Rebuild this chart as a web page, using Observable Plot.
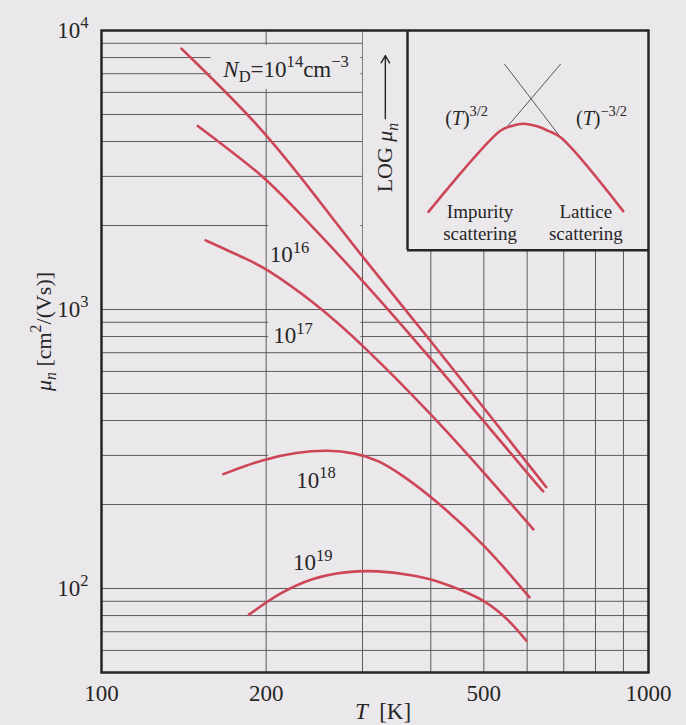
<!DOCTYPE html>
<html>
<head>
<meta charset="utf-8">
<script src="https://cdn.jsdelivr.net/npm/d3@7"></script>
<script src="https://cdn.jsdelivr.net/npm/@observablehq/plot@0.6"></script>
<style>
  html, body { margin: 0; padding: 0; background: #ebe8eb; }
  #chart { position: relative; width: 686px; height: 725px; }
  #chart svg { position: absolute; }
</style>
</head>
<body>
<div id="chart"></div>
<script>
// Electron mobility in n-type silicon versus temperature for several donor levels,
// with a schematic inset of the two scattering regimes.

const FONT = '"Liberation Serif", "Times New Roman", Times, serif';
const BG = "#ebe8eb";
const INK = "#262626";
const GRID = "#5c5c5c";
const RED = "#cc4658";

// Axes: temperature T [K] and mobility µn [cm²/(Vs)], both logarithmic
const xTicks = [100, 200, 500, 1000];
const xTickLabels = ["100", "200", "500", "1000"];
const yTicks = [50, 100, 1000, 10000];
const yTickLabels = ["50", "10^{2}", "10^{3}", "10^{4}"];
const xGrid = [200, 300, 400, 500, 600, 700, 800, 900];
const yGrid = [60, 70, 80, 90, 100, 200, 300, 400, 500, 600, 700, 800, 900,
               1000, 2000, 3000, 4000, 5000, 6000, 7000, 8000, 9000];

// Mobility curves, one per donor concentration N_D (cm^-3)
const T_14  = [140, 198, 250, 301, 409, 503, 631, 650];
const mu_14 = [8610, 4440, 2450, 1530, 730, 437, 249, 231];

const T_16  = [150, 198, 219, 299, 409, 503, 631, 642];
const mu_16 = [4550, 3010, 2450, 1290, 634, 392, 231, 223];

const T_17  = [155, 185, 197, 244, 299, 409, 503, 616];
const mu_17 = [1770, 1510, 1430, 1070, 755, 405, 257, 163];

const T_18  = [167, 198, 227, 260, 291, 320, 353, 409, 503, 606];
const mu_18 = [257, 291, 308, 314, 306, 289, 257, 207, 143, 93];

const T_19  = [186, 212, 244, 279, 320, 368, 409, 452, 503, 555, 598];
const mu_19 = [80.6, 96.7, 109.5, 115, 116, 112, 107, 99.2, 90.5, 77.4, 65];

const series = [
  {nd: "1e14", T: T_14, mu: mu_14},
  {nd: "1e16", T: T_16, mu: mu_16},
  {nd: "1e17", T: T_17, mu: mu_17},
  {nd: "1e18", T: T_18, mu: mu_18},
  {nd: "1e19", T: T_19, mu: mu_19}
];
const rows = series.flatMap(s => s.T.map((t, i) => ({nd: s.nd, T: t, mu: s.mu[i]})));

// Curve labels and where they sit (T, µ)
const curveLabels = ["*N*_{D}=10^{14}cm^{−3}", "10^{16}", "10^{17}", "10^{18}", "10^{19}"];
const labelT  = [167, 203, 206, 227, 224];
const labelMu = [7270, 1570, 803, 244, 123.5];

// Blank patches behind the labels that interrupt the grid
const gapT1  = [158.6, 202, 202, 202];
const gapT2  = [298, 298, 298, 298];
const gapMu1 = [6150, 1300, 750, 230];
const gapMu2 = [8830, 2300, 960, 340];

// Area reserved for the inset (upper right)
const insetT  = [301, 1000];
const insetMu = [1630, 10000];

// Inset: log µ against log T in arbitrary units (0..1)
const insetU = [0.087, 0.384, 0.433, 0.482, 0.538, 0.584, 0.636, 0.895];
const insetV = [0.175, 0.543, 0.566, 0.576, 0.564, 0.543, 0.513, 0.178];
const asymU1 = [0.405, 0.402];
const asymV1 = [0.551, 0.848];
const asymU2 = [0.636, 0.636];
const asymV2 = [0.848, 0.513];
const insetPower  = ["(*T*)^{3/2}", "(*T*)^{−3/2}"];
const insetPowerU = [0.245, 0.805];
const insetPowerV = [0.600, 0.600];
const insetRegime  = ["Impurity\nscattering", "Lattice\nscattering"];
const insetRegimeU = [0.301, 0.740];
const insetRegimeV = [0.128, 0.128];
const insetAxisLabel = ["LOG *μ*_{*n*}"];

const fmtX = d => xTickLabels[xTicks.indexOf(d)];
const fmtY = d => yTickLabels[yTicks.indexOf(d)];

const main = Plot.plot({
  width: 686,
  height: 725,
  marginLeft: 101,
  marginRight: 38,
  marginTop: 30,
  marginBottom: 53,
  style: {background: "transparent", overflow: "visible", fontFamily: FONT, fontSize: "23px", color: INK},
  x: {type: "log", domain: [100, 1000], ticks: xTicks, tickFormat: fmtX, tickSize: 0, tickPadding: 12, label: null},
  y: {type: "log", domain: [50, 10000], ticks: yTicks, tickFormat: fmtY, tickSize: 0, tickPadding: 13, label: null},
  marks: [
    Plot.ruleY(yGrid, {stroke: GRID, strokeWidth: 1}),
    Plot.ruleX(xGrid, {stroke: GRID, strokeWidth: 1}),
    Plot.rect(gapT1, {x1: gapT1, x2: gapT2, y1: gapMu1, y2: gapMu2, fill: BG}),
    Plot.rect([0], {x1: [insetT[0]], x2: [insetT[1]], y1: [insetMu[0]], y2: [insetMu[1]], fill: BG}),
    Plot.line(rows, {x: "T", y: "mu", z: "nd", stroke: RED, strokeWidth: 2.6, curve: "basis"}),
    Plot.frame({stroke: INK, strokeWidth: 2.5}),
    Plot.text(curveLabels, {x: labelT, y: labelMu, text: d => d, textAnchor: "start", fontSize: 23, fill: INK}),
    Plot.text(["*μ*_{*n*} [cm^{2}/(Vs)]"], {frameAnchor: "left", textAnchor: "middle", lineAnchor: "middle", dx: -58, dy: -20, rotate: -90, fontSize: 22, fill: INK}),
    Plot.text(["*T*  [K]"], {frameAnchor: "bottom", textAnchor: "middle", lineAnchor: "middle", dx: 8, dy: 39, fontSize: 23, fill: INK})
  ]
});

const chart = document.getElementById("chart");
main.style.left = "0px";
main.style.top = "0px";
chart.appendChild(main);

// Place the inset over its reserved area, aligned to the 300 K grid line
const xs = main.scale("x");
const ys = main.scale("y");
const insetLeft = xs.apply(insetT[0] - 1);
const insetRight = xs.apply(insetT[1]);
const insetTop = ys.apply(insetMu[1]);
const insetBottom = ys.apply(insetMu[0]);

const inset = Plot.plot({
  width: insetRight - insetLeft,
  height: insetBottom - insetTop + 3,
  marginLeft: 45,
  marginRight: 0,
  marginTop: 0,
  marginBottom: 3,
  style: {background: "transparent", overflow: "visible", fontFamily: FONT, fontSize: "20px", color: INK},
  x: {domain: [0, 1], axis: null},
  y: {domain: [0, 1], axis: null},
  marks: [
    Plot.link(asymU1, {x1: asymU1, y1: asymV1, x2: asymU2, y2: asymV2, stroke: "#555", strokeWidth: 1}),
    Plot.line(insetU, {x: insetU, y: insetV, stroke: RED, strokeWidth: 2.6, curve: "catmull-rom"}),
    Plot.ruleX([0], {y1: 0, y2: 1, stroke: INK, strokeWidth: 2.5}),
    Plot.ruleY([0], {x1: 0, x2: 1, stroke: INK, strokeWidth: 2.5}),
    Plot.text(insetPower, {x: insetPowerU, y: insetPowerV, text: d => d, fontSize: 20, fill: INK}),
    Plot.text(insetRegime, {x: insetRegimeU, y: insetRegimeV, text: d => d, fontSize: 19, lineHeight: 1.12, fill: INK}),
    Plot.text(insetAxisLabel, {x: [-0.092], y: [0.422], text: d => d, rotate: -90, fontSize: 22, fill: INK}),
    Plot.arrow([0], {x1: [-0.092], y1: [0.598], x2: [-0.092], y2: [0.886], stroke: INK, strokeWidth: 1.4, headLength: 9})
  ]
});
inset.style.left = insetLeft + "px";
inset.style.top = insetTop + "px";
chart.appendChild(inset);

// Turn the light markup (^{…} superscript, _{…} subscript, *…* italic) into tspans
function segments(src) {
  const out = [];
  let italic = false, buf = "", i = 0;
  const flush = () => { if (buf) out.push({text: buf, italic, shift: 0}); buf = ""; };
  while (i < src.length) {
    const c = src[i];
    if ((c === "^" || c === "_") && src[i + 1] === "{") {
      flush();
      const end = src.indexOf("}", i);
      const inner = src.slice(i + 2, end);
      out.push({text: inner.replace(/\*/g, ""), italic: inner.includes("*"), shift: c === "^" ? 1 : -1});
      i = end + 1;
    } else if (c === "*") {
      flush();
      italic = !italic;
      i++;
    } else {
      buf += c;
      i++;
    }
  }
  flush();
  return out;
}

function richText(svg) {
  svg.querySelectorAll("text").forEach(el => {
    if (el.children.length) return;
    const src = el.textContent;
    if (!/[\^_]\{|\*/.test(src)) return;
    const fs = parseFloat(getComputedStyle(el).fontSize) || 20;
    el.textContent = "";
    let level = 0;
    for (const seg of segments(src)) {
      const ts = document.createElementNS("http://www.w3.org/2000/svg", "tspan");
      const target = seg.shift === 1 ? -0.42 * fs : seg.shift === -1 ? 0.24 * fs : 0;
      if (target !== level) ts.setAttribute("dy", (target - level).toFixed(2));
      level = target;
      if (seg.shift) ts.setAttribute("font-size", (0.72 * fs).toFixed(2));
      if (seg.italic) ts.setAttribute("font-style", "italic");
      ts.textContent = seg.text;
      el.appendChild(ts);
    }
  });
}

richText(main);
richText(inset);
</script>
</body>
</html>
